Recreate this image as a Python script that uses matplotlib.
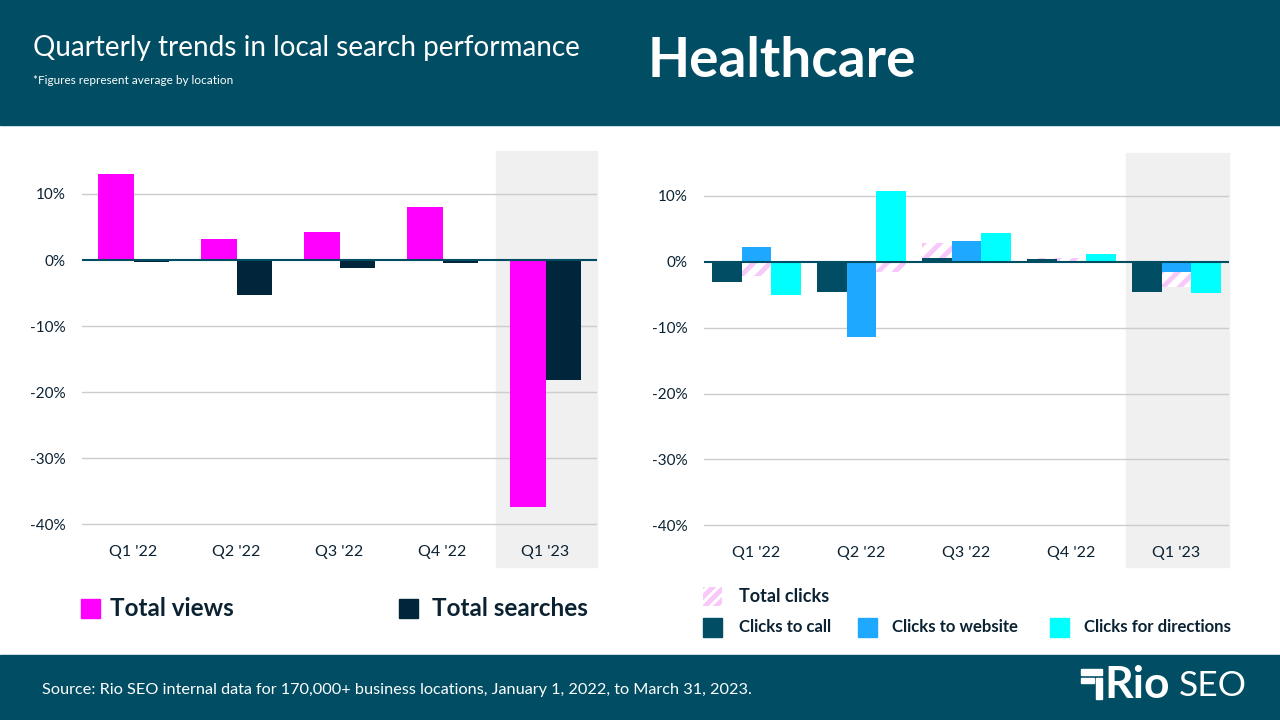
#quarterly local search trends - healthcare
import numpy as np
import matplotlib.pyplot as plt
from matplotlib.patches import Rectangle

plt.rcParams['font.family'] = ['Lato', 'DejaVu Sans']
plt.rcParams['hatch.linewidth'] = 3.5

quarters = ["Q1 '22", "Q2 '22", "Q3 '22", "Q4 '22", "Q1 '23"]
total_views = [13.0, 3.2, 4.2, 8.0, -37.4]
total_searches = [-0.3, -5.3, -1.2, -0.5, -18.2]
clicks_call = [-3.1, -4.6, 0.5, 0.35, -4.6]
clicks_website = [2.2, -11.4, 3.2, -0.2, -1.6]
clicks_directions = [-5.1, 10.7, 4.3, 1.25, -4.8]
total_clicks = [-2.2, -1.6, 2.8, 0.5, -3.8]
yticks = [-40, -30, -20, -10, 0, 10]

teal = '#014d63'
navy = '#0b2233'
magenta = '#ff00ff'
dark = '#01263b'
blue = '#1ea8ff'
cyan = '#00ffff'
pink = '#f8c9f8'
grid = '#cccccc'
shade = '#f0f0f0'

W, H = 1280, 720
fig = plt.figure(figsize=(12.8, 7.2), dpi=100)
fig.patch.set_facecolor('white')


def fx(px):
    return px / W


def fy(py):
    return 1 - py / H


# header / footer bands
fig.patches.append(Rectangle((0, fy(125)), 1, 125 / H, transform=fig.transFigure,
                             color=teal, zorder=0))
fig.patches.append(Rectangle((0, 0), 1, 65 / H, transform=fig.transFigure,
                             color=teal, zorder=0))
fig.text(fx(33), fy(48), 'Quarterly trends in local search performance', color='white',
         fontsize=20.1, va='center', ha='left')
fig.text(fx(33), fy(81), '*Figures represent average by location', color='white',
         fontsize=8.5, va='center', ha='left')
fig.text(fx(648), fy(61), 'Healthcare', color='white', fontsize=39.5,
         fontweight='bold', va='center', ha='left')
fig.text(fx(42), fy(690), 'Source: Rio SEO internal data for 170,000+ business locations, '
         'January 1, 2022, to March 31, 2023.', color='white', fontsize=11.7,
         va='center', ha='left')

# logo
for x0, y0, w, h in [(1081, 669, 21, 6), (1081, 678, 13, 5), (1096, 678, 6, 21)]:
    fig.patches.append(Rectangle((fx(x0), fy(y0 + h)), w / W, h / H,
                                 transform=fig.transFigure, color='white'))
fig.text(fx(1104), fy(685), 'Rio', color='white', fontsize=32, fontweight='bold',
         va='center', ha='left')
fig.text(fx(1179), fy(686), 'SEO', color='white', fontsize=25.5,
         va='center', ha='left')


def setup(ax, bottom_px):
    ax.set_xlim(-0.5, 4.5)
    ax.set_ylim(-41, 16.5)
    ax.set_yticks(yticks)
    ax.set_yticklabels([f'{v}%' for v in yticks])
    ax.set_xticks(range(len(quarters)))
    ax.set_xticklabels(quarters)
    ax.tick_params(length=0, colors=navy, labelsize=11.5)
    ax.tick_params(axis='y', pad=12, labelsize=11)
    ax.tick_params(axis='x', pad=10)
    for s in ax.spines.values():
        s.set_visible(False)
    for v in yticks:
        if v != 0:
            ax.axhline(v, color=grid, lw=1, zorder=1)
    ax.axhline(0, color=teal, lw=1.5, zorder=5)
    # shaded latest quarter, runs down past the tick labels
    ymin = -(567 - bottom_px) / (bottom_px - 152)
    ax.axvspan(3.52, 4.5, ymin=ymin, ymax=1, color=shade, zorder=0, clip_on=False)


x = np.arange(len(quarters))

# left chart
ax1 = fig.add_axes([fx(82), fy(531), 515 / W, 380 / H])
setup(ax1, 531)
w = 0.34
ax1.bar(x - w / 2, total_views, w, color=magenta, zorder=3)
ax1.bar(x + w / 2, total_searches, w, color=dark, zorder=3)

# right chart
ax2 = fig.add_axes([fx(704), fy(532), 525 / W, 379 / H])
setup(ax2, 532)
w2 = 0.28
ax2.bar(x, total_clicks, 3 * w2, facecolor='white', edgecolor=pink, hatch='//',
        lw=0, zorder=2)
ax2.bar(x - w2, clicks_call, w2, color=teal, zorder=3)
ax2.bar(x, clicks_website, w2, color=blue, zorder=3)
ax2.bar(x + w2, clicks_directions, w2, color=cyan, zorder=3)


# legends
def swatch(x0, y0, color, label, size, gap, hatch=None):
    if hatch:
        r = Rectangle((fx(x0), fy(y0 + 19)), 19 / W, 19 / H, transform=fig.transFigure,
                      facecolor='white', edgecolor=pink, hatch=hatch, lw=0)
    else:
        r = Rectangle((fx(x0), fy(y0 + 19)), 19 / W, 19 / H, transform=fig.transFigure,
                      color=color)
    fig.patches.append(r)
    fig.text(fx(x0 + gap), fy(y0 + 9.5), label, color=navy,
             fontsize=size, fontweight='bold', va='center', ha='left')


swatch(81, 599, magenta, 'Total views', 17.5, 29)
swatch(399, 599, dark, 'Total searches', 17.5, 33)
swatch(703, 587, None, 'Total clicks', 13, 36, hatch='///')
swatch(703, 618, teal, 'Clicks to call', 12.1, 36)
swatch(858, 618, blue, 'Clicks to website', 12.1, 34)
swatch(1050, 618, cyan, 'Clicks for directions', 12.1, 34)

fig.savefig('out.png', dpi=100)
